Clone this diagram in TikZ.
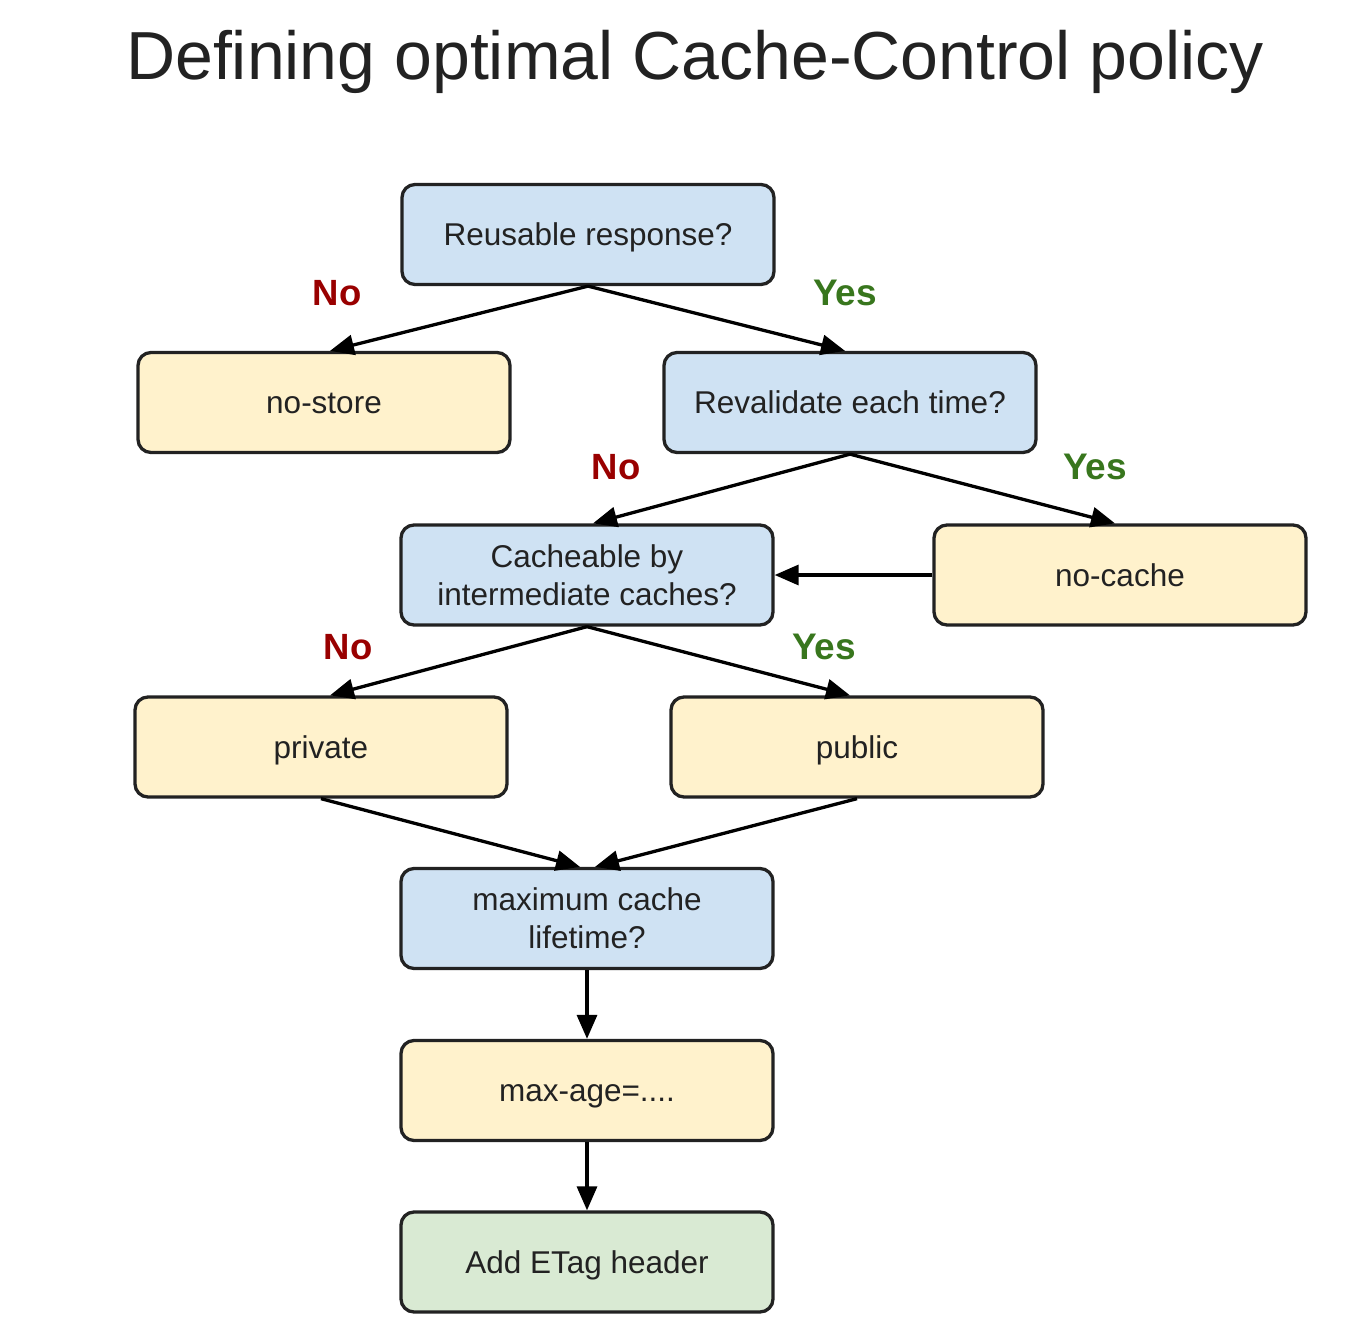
\documentclass[tikz,border=0pt]{standalone}
\usepackage{fontspec}
\setmainfont{Liberation Sans}
\usetikzlibrary{arrows.meta}
\definecolor{qblue}{HTML}{CFE2F3}
\definecolor{ayellow}{HTML}{FFF2CC}
\definecolor{egreen}{HTML}{D9EAD3}
\definecolor{nored}{HTML}{990000}
\definecolor{yesgreen}{HTML}{38761D}
\definecolor{ink}{HTML}{222222}
\tikzset{
  boxbase/.style={draw=ink, line width=3.3pt, rounded corners=13pt, minimum width=372pt, minimum height=100pt, align=center, text=ink, font=\fontsize{31.5}{38}\selectfont, inner sep=0pt},
  oneline/.style={text height=22pt, text depth=0pt},
  qbox/.style={boxbase, fill=qblue},
  abox/.style={boxbase, fill=ayellow},
  ebox/.style={boxbase, fill=egreen},
  conn/.style={draw=black, line width=3.3pt, -{Triangle[length=24pt,width=20pt]}},
  nolab/.style={text=nored, font=\fontsize{36.5}{42}\selectfont\bfseries},
  yeslab/.style={text=yesgreen, font=\fontsize{37}{42}\selectfont\bfseries}
}
\begin{document}
\begin{tikzpicture}[x=1pt,y=-1pt]
\useasboundingbox (0,0) rectangle (1360,1322);
\node[anchor=base, text=ink, font=\fontsize{68}{80}\selectfont] (title) at (695,80) {Defining optimal Cache-Control policy};

\node[qbox, oneline] (reuse) at (588,234.5) {Reusable response?};
\node[abox, oneline] (nostore) at (324,402.5) {no-store};
\node[qbox, oneline] (reval) at (850,402.5) {Revalidate each time?};
\node[qbox] (cacheable) at (587,575) {Cacheable by\\intermediate caches?};
\node[abox, oneline] (nocache) at (1120,575) {no-cache};
\node[abox, oneline] (private) at (321,747) {private};
\node[abox, oneline] (public) at (857,747) {public};
\node[qbox] (maxlife) at (587,918.5) {maximum cache\\lifetime?};
\node[abox, oneline] (maxage) at (587,1090.5) {max-age=....};
\node[ebox, oneline] (etag) at (587,1262) {Add ETag header};

\draw[conn] (reuse.south) -- ([xshift=6pt]nostore.north);
\draw[conn] (reuse.south) -- ([xshift=-5pt]reval.north);
\draw[conn] (reval.south) -- ([xshift=6pt]cacheable.north);
\draw[conn] (reval.south) -- ([xshift=-5pt]nocache.north);
\draw[conn] (nocache.west) -- (cacheable.east);
\draw[conn] (cacheable.south) -- ([xshift=9pt]private.north);
\draw[conn] (cacheable.south) -- ([xshift=-7pt]public.north);
\draw[conn] (private.south) -- ([xshift=-7pt]maxlife.north);
\draw[conn] (public.south) -- ([xshift=8pt]maxlife.north);
\draw[conn] (maxlife.south) -- (maxage.north);
\draw[conn] (maxage.south) -- (etag.north);

\node[nolab] (l1) at (337,293) {No};
\node[yeslab] (l2) at (845,293) {Yes};
\node[nolab] (l3) at (616,467) {No};
\node[yeslab] (l4) at (1095,467) {Yes};
\node[nolab] (l5) at (348,647) {No};
\node[yeslab] (l6) at (824,647) {Yes};
\end{tikzpicture}
\end{document}
